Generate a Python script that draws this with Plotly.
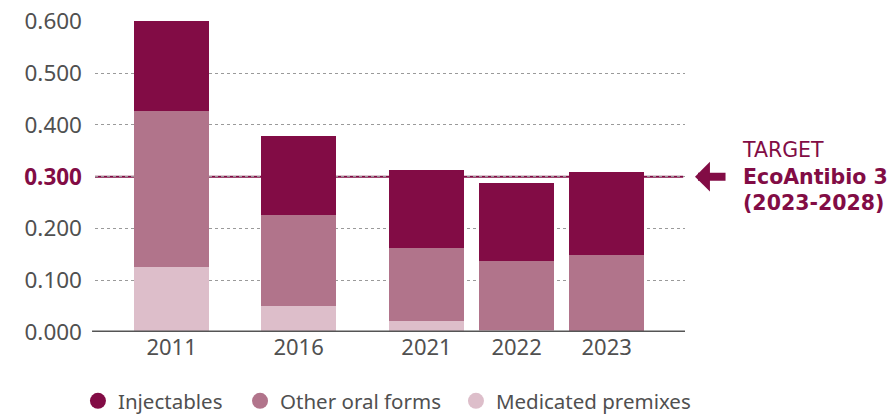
import plotly.graph_objects as go

years = ["2011", "2016", "2021", "2022", "2023"]
injectables = [0.174, 0.153, 0.150, 0.150, 0.160]
other_oral = [0.300, 0.175, 0.141, 0.133, 0.147]
premixes = [0.126, 0.050, 0.021, 0.004, 0.001]
y_ticks = [0.0, 0.1, 0.2, 0.3, 0.4, 0.5, 0.6]
target = 0.300
target_label = "TARGET<br><b>EcoAntibio 3</b><br><b>(2023-2028)</b>"

# layout positions of the category slots (gap between 2016 and 2021)
x_pos = [0.0, 1.41, 2.83, 3.83, 4.83]

C_INJ = "#820C45"
C_ORAL = "#B1748B"
C_PREM = "#DDBECA"
FONT = "Noto Sans"
GREY = "#505050"

fig = go.Figure()
for name, vals, col in [("Medicated premixes", premixes, C_PREM),
                        ("Other oral forms", other_oral, C_ORAL),
                        ("Injectables", injectables, C_INJ)]:
    fig.add_trace(go.Bar(x=x_pos, y=vals, name=name, marker_color=col,
                         marker_line_width=0, width=0.84, showlegend=False))

# legend entries with round markers, each in its own legend box
legend_items = [("Injectables", C_INJ, "legend", 0.0873),
                ("Other oral forms", C_ORAL, "legend2", 0.2688),
                ("Medicated premixes", C_PREM, "legend3", 0.5106)]
legend_layout = {}
for name, col, lg, lx in legend_items:
    fig.add_trace(go.Scatter(x=[None], y=[None], mode="markers", name=name,
                             legend=lg,
                             marker=dict(symbol="circle", size=18, color=col)))
    legend_layout[lg] = dict(orientation="h", xref="container", yref="container",
                             x=lx, y=0.0314, xanchor="left", yanchor="middle",
                             font=dict(size=20.5, color=GREY, family=FONT),
                             itemwidth=30, bgcolor="rgba(0,0,0,0)")

ticktext = []
for v in y_ticks:
    if abs(v - target) < 1e-9:
        ticktext.append(f"<b><span style='color:{C_INJ}'>{v:.3f}</span></b>")
    else:
        ticktext.append(f"{v:.3f}")

fig.update_layout(
    barmode="stack",
    width=893, height=414,
    margin=dict(l=95, r=208, t=21, b=82, autoexpand=False),
    plot_bgcolor="white", paper_bgcolor="white",
    font=dict(family=FONT, color=GREY),
    showlegend=True,
    bargap=0,
    **legend_layout,
)
fig.update_xaxes(range=[-0.85, 5.7], tickvals=x_pos, ticktext=years,
                 showgrid=False, zeroline=False, showline=False, automargin=False,
                 ticks="", tickfont=dict(size=22, color=GREY))
fig.update_yaxes(range=[0, 0.6005], tickvals=y_ticks, ticktext=ticktext,
                 showgrid=True, gridcolor="#9a9a9a", griddash="dot", gridwidth=1,
                 zeroline=False, showline=False, ticks="", automargin=False,
                 ticklabelstandoff=12, ticklabeloverflow="allow",
                 tickfont=dict(size=22.5, color=GREY))

# baseline
fig.add_shape(type="line", xref="paper", yref="y", x0=-0.005, x1=1.0, y0=0, y1=0,
              line=dict(color="#555555", width=3), layer="above")
# target line
fig.add_shape(type="line", xref="paper", yref="y", x0=0, x1=0.997, y0=target, y1=target,
              line=dict(color=C_INJ, width=2), layer="between")
# arrow
fig.add_annotation(xref="paper", yref="y", x=1.017, y=target, ax=32, ay=0,
                   axref="pixel", ayref="pixel", showarrow=True, arrowhead=1,
                   arrowsize=0.62, arrowwidth=8, arrowcolor=C_INJ, text="")
# target label
fig.add_annotation(xref="paper", yref="y", x=1.093, y=target, xanchor="left",
                   yanchor="middle", showarrow=False, align="left",
                   text=target_label,
                   font=dict(size=20.5, color=C_INJ, family="DejaVu Sans"))

fig.write_html("out.html",
               config={"displayModeBar": False},
               post_script="document.body.style.margin='0';")
